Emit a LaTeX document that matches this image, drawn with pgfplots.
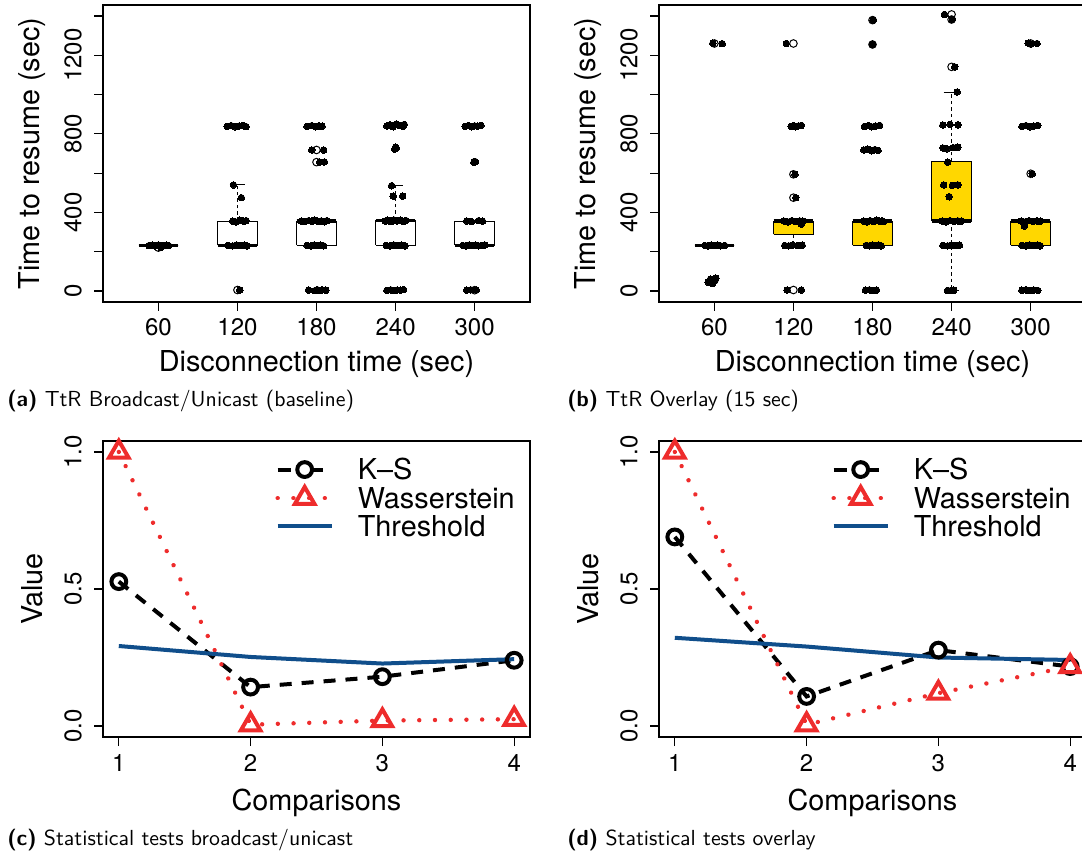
\documentclass[border=0pt]{standalone}
\usepackage{fontspec}
\usepackage{pgfplots}
\pgfplotsset{compat=1.18}
\newfontfamily\plotfont{TeX Gyre Heros}
\definecolor{gold}{RGB}{255,215,0}
\definecolor{wred}{RGB}{238,44,44}
\definecolor{tblue}{RGB}{16,78,139}
\newcommand{\tickfont}{\plotfont\fontsize{12}{14}\selectfont}
\newcommand{\labfont}{\plotfont\fontsize{14.4}{17}\selectfont}
\newcommand{\capfont}{\sffamily\fontsize{10.9}{13}\selectfont}
\pgfplotsset{
  rbase/.style={
    scale only axis, width=213.5pt,
    axis line style={line width=0.6pt, black},
    tick align=outside, major tick length=4.5pt,
    every tick/.style={black, line width=0.6pt},
    xtick pos=left, ytick pos=left,
    tick label style={font=\tickfont},
    yticklabel style={xshift=-10.5pt, rotate=90, anchor=center},
    every axis y label/.style={at={(axis description cs:0,0.5)}, xshift=-35.5pt, rotate=90, anchor=center, font=\labfont},
    unbounded coords=jump,
  },
  topbox/.style={rbase, height=148.5pt, xmin=0.3, xmax=5.7, ymin=-56, ymax=1456,
    xtick={1,2,3,4,5}, xticklabels={60,120,180,240,300},
    ytick={0,200,...,1400}, yticklabels={0,,400,,800,,1200,},
    xticklabel style={anchor=center, yshift=-8pt},
    every axis x label/.style={at={(axis description cs:0.5,0)}, anchor=center, yshift=-31pt, font=\labfont},
    xlabel={Disconnection time (sec)}, ylabel={Time to resume (sec)},
  },
  boxst/.style={draw=black, line width=0.5pt},
  medst/.style={black, line width=1.6pt},
  whst/.style={black, line width=0.5pt, dash pattern=on 1.7pt off 1.5pt},
  stst/.style={black, line width=0.5pt},
  outst/.style={only marks, mark=o, mark size=1.9pt, black, mark options={solid, line width=0.5pt, fill=none}},
  dots/.style={only marks, mark=*, mark size=1.65pt, black, mark options={draw=black, fill=black, line width=0pt}},
  botplot/.style={rbase, height=148pt, xmin=0.88, xmax=4.12, ymin=-0.04, ymax=1.04,
    xtick={1,2,3,4}, xticklabels={1,2,3,4}, ytick={0,0.5,1}, yticklabels={0.0,0.5,1.0},
    xticklabel style={anchor=center, yshift=-8.5pt},
    every axis x label/.style={at={(axis description cs:0.5,0)}, anchor=center, yshift=-33pt, font=\labfont},
    xlabel={Comparisons}, ylabel={Value},
    legend cell align=left,
    legend style={draw=none, fill=none, at={(rel axis cs:0.403,0.94)}, anchor=north west,
      font=\labfont, inner sep=0pt, row sep=3.5pt, /tikz/column sep=0pt,
      nodes={inner sep=0pt, text height=10.4pt, text depth=0pt}},
  },
  ksline/.style={black, line width=2pt, dash pattern=on 6pt off 5pt, mark=o, mark size=3.7pt, mark options={solid, line width=2pt},
    legend image code/.code={\draw[##1,solid] (0pt,0pt)--(6.5pt,0pt) (16.5pt,0pt)--(22.5pt,0pt);
      \draw[##1] plot[only marks] coordinates {(13.5pt,0pt)}; \path (39pt,0pt);}},
  wsline/.style={wred, line width=2.2pt, line cap=round, dash pattern=on 0.01pt off 7.85pt, mark=triangle, mark size=5.6pt,
    mark options={solid, line width=2pt, line cap=butt, line join=miter},
    legend image code/.code={\draw[##1] (0pt,0pt)--(27pt,0pt);
      \draw[##1] plot[only marks] coordinates {(13.5pt,0pt)}; \path (39pt,0pt);}},
  thline/.style={tblue, line width=2pt,
    legend image code/.code={\draw[##1] (0pt,0pt)--(27pt,0pt); \path (39pt,0pt);}},
}
\begin{document}
\begin{tikzpicture}
% ---------------- (a)
\begin{axis}[topbox, at={(51.5pt,277.5pt)}, anchor=south west]
\addplot[boxst] coordinates {(0.75,232) (1.25,232) (1.25,232) (0.75,232) (0.75,232)};
\addplot[boxst] coordinates {(1.75,232) (2.25,232) (2.25,356) (1.75,356) (1.75,232)};
\addplot[boxst] coordinates {(2.75,232) (3.25,232) (3.25,356) (2.75,356) (2.75,232)};
\addplot[boxst] coordinates {(3.75,232) (4.25,232) (4.25,360) (3.75,360) (3.75,232)};
\addplot[boxst] coordinates {(4.75,232) (5.25,232) (5.25,356) (4.75,356) (4.75,232)};
\addplot[medst] coordinates {(0.75,232) (1.25,232) (1.5,nan) (1.75,232) (2.25,232) (2.5,nan) (2.75,356) (3.25,356) (3.5,nan) (3.75,360) (4.25,360) (4.5,nan) (4.75,232) (5.25,232)};
\addplot[whst] coordinates {(2,356) (2,540) (3,nan) (4,360) (4,536)};
\addplot[stst] coordinates {(1.9,540) (2.1,540) (3,nan) (3.9,536) (4.1,536)};
\addplot[outst] coordinates {(1,221) (2,5) (3,718) (3,656) (5,4)};
\addplot[dots] coordinates {
(0.88,231) (0.92,233) (0.96,229) (1.0,234) (1.03,230) (1.06,232) (1.1,233) (1.13,231) (1.03,221)
(1.87,838) (1.92,842) (1.97,836) (2.02,840) (2.07,843) (2.11,837)
(1.95,540) (2.05,475)
(1.94,356) (1.98,352) (2.03,360) (2.08,355) (2.11,358)
(1.88,232) (1.94,230) (1.99,234) (2.04,231) (2.09,233) (2.12,230)
(2.03,5)
(2.88,838) (2.94,842) (2.99,836) (3.03,841) (3.07,839)
(2.94,718) (3.09,718) (3.04,656) (3.1,657)
(2.81,356) (2.85,353) (2.9,358) (2.94,355) (2.98,360) (3.02,354) (3.06,357) (3.1,352) (3.13,358)
(2.88,232) (2.93,229) (2.97,234) (3.01,231) (3.05,233) (3.09,230)
(2.9,5) (2.98,2) (3.01,7) (3.04,3) (3.07,6) (3.12,4)
(3.89,840) (3.93,846) (3.97,836) (4.01,850) (4.05,842) (4.09,838) (4.11,848)
(3.99,722) (4.0,732) (4.01,727)
(3.95,536) (3.97,483) (4.09,483)
(3.87,356) (3.9,360) (3.94,353) (3.98,362) (4.02,357) (4.06,360) (4.1,354) (4.13,359)
(3.88,232) (3.93,230) (3.98,234) (4.03,231) (4.08,233) (4.12,230)
(3.89,3) (3.94,6) (3.98,2) (4.02,5) (4.06,4) (4.1,7)
(4.88,838) (4.92,842) (4.96,836) (5.0,841) (5.04,839) (5.08,843)
(4.99,655) (5.0,660) (5.01,658)
(4.9,356) (4.96,353) (5.05,358) (5.1,355)
(4.85,232) (4.89,230) (4.93,234) (4.97,231) (5.01,233) (5.05,230) (5.09,232) (5.13,234)
(4.9,4) (4.95,6) (5.02,5)
};
\end{axis}
% ---------------- (b)
\begin{axis}[topbox, at={(329.5pt,277.5pt)}, anchor=south west]
\addplot[boxst, fill=gold] coordinates {(0.75,232) (1.25,232) (1.25,232) (0.75,232) (0.75,232)};
\addplot[boxst, fill=gold] coordinates {(1.75,288) (2.25,288) (2.25,356) (1.75,356) (1.75,288)};
\addplot[boxst, fill=gold] coordinates {(2.75,232) (3.25,232) (3.25,356) (2.75,356) (2.75,232)};
\addplot[boxst, fill=gold] coordinates {(3.75,356) (4.25,356) (4.25,658) (3.75,658) (3.75,356)};
\addplot[boxst, fill=gold] coordinates {(4.75,232) (5.25,232) (5.25,356) (4.75,356) (4.75,232)};
\addplot[medst] coordinates {(0.75,232) (1.25,232) (1.5,nan) (1.75,356) (2.25,356) (2.5,nan) (2.75,356) (3.25,356) (3.5,nan) (3.75,356) (4.25,356) (4.5,nan) (4.75,356) (5.25,356)};
\addplot[whst] coordinates {(2,288) (2,232) (3,nan) (4,356) (4,0) (4.5,nan) (4,658) (4,1013)};
\addplot[stst] coordinates {(1.9,232) (2.1,232) (3,nan) (3.9,0) (4.1,0) (4.5,nan) (3.9,1013) (4.1,1013)};
\addplot[outst] coordinates {(1,1260) (1,55) (2,1260) (2,594) (2,475) (2,5) (3,1379) (3,1255) (4,1408) (4,1382) (4,1141) (5,1260) (5,597)};
\addplot[dots] coordinates {
(0.98,1261) (1.1,1259)
(0.88,232) (0.92,230) (0.96,234) (1.0,231) (1.04,233) (1.08,230) (1.13,232)
(0.92,45) (0.95,60) (0.98,38) (1.0,52) (1.02,65) (0.97,48)
(1.91,1260)
(1.97,838) (2.0,842) (2.03,836) (2.06,840) (2.1,843)
(2.02,594) (2.03,475)
(1.88,356) (1.93,352) (1.98,358) (2.03,354) (2.08,357) (2.12,355) (2.1,340)
(1.89,232) (1.94,230) (1.99,234) (2.05,231) (2.11,233)
(1.92,5) (2.1,5)
(3.01,1379) (3.0,1256)
(2.9,838) (2.95,842) (2.99,836) (3.04,840) (3.09,843)
(2.89,718) (2.94,722) (2.99,714) (3.03,720) (3.07,716)
(2.89,356) (2.93,352) (2.97,358) (3.01,354) (3.05,360) (3.09,355) (3.12,357) (3.14,353)
(2.92,232) (2.96,230) (3.0,234) (3.04,231) (3.08,233) (3.11,230)
(2.91,4) (2.96,6) (3.0,2) (3.05,5)
(3.91,1408) (4.01,1383) (4.04,1141) (4.07,1013)
(3.89,845) (3.98,848) (4.08,846)
(3.89,728) (3.94,724) (4.02,730) (4.08,732)
(3.95,656)
(3.9,540) (4.01,538) (4.08,540)
(3.97,480)
(3.88,356) (3.93,352) (3.98,358) (4.03,354) (4.08,357) (4.12,355)
(3.89,232) (3.95,230) (4.0,234) (4.05,231) (4.1,233)
(3.95,3) (3.99,2) (4.03,4)
(4.97,1262) (5.0,1258) (5.08,1260)
(4.89,838) (4.94,842) (4.99,836) (5.04,840) (5.09,843)
(5.02,597)
(4.88,356) (4.93,352) (4.98,358) (5.03,354) (5.08,357) (5.12,355) (4.92,331)
(4.89,232) (4.94,230) (4.99,234) (5.04,231) (5.09,233) (5.12,230)
(4.89,4) (4.94,6) (4.99,2) (5.04,5) (5.09,3)
};
\end{axis}
% ---------------- (c)
\begin{axis}[botplot, at={(51.5pt,60pt)}, anchor=south west]
\addplot[ksline] coordinates {(1,0.527) (2,0.142) (3,0.18) (4,0.24)};
\addlegendentry{K–S}
\addplot[wsline] coordinates {(1,1.0) (2,0.005) (3,0.02) (4,0.025)};
\addlegendentry{Wasserstein}
\addplot[thline] coordinates {(1,0.292) (2,0.252) (3,0.228) (4,0.244)};
\addlegendentry{Threshold}
\end{axis}
% ---------------- (d)
\begin{axis}[botplot, at={(329.5pt,60pt)}, anchor=south west]
\addplot[ksline] coordinates {(1,0.69) (2,0.108) (3,0.277) (4,0.217)};
\addlegendentry{K–S}
\addplot[wsline] coordinates {(1,1.0) (2,0.005) (3,0.12) (4,0.217)};
\addlegendentry{Wasserstein}
\addplot[thline] coordinates {(1,0.322) (2,0.29) (3,0.25) (4,0.241)};
\addlegendentry{Threshold}
\end{axis}
% captions
\node[anchor=base west, inner sep=0pt, font=\capfont] at (3.5pt,225pt) {\textbf{(a)} TtR Broadcast/Unicast (baseline)};
\node[anchor=base west, inner sep=0pt, font=\capfont] at (283.5pt,225pt) {\textbf{(b)} TtR Overlay (15 sec)};
\node[anchor=base west, inner sep=0pt, font=\capfont] at (3.5pt,5.5pt) {\textbf{(c)} Statistical tests broadcast/unicast};
\node[anchor=base west, inner sep=0pt, font=\capfont] at (283.5pt,5.5pt) {\textbf{(d)} Statistical tests overlay};
\pgfresetboundingbox
\path[use as bounding box] (0pt,0pt) rectangle (541pt,428.5pt);
\end{tikzpicture}
\end{document}
